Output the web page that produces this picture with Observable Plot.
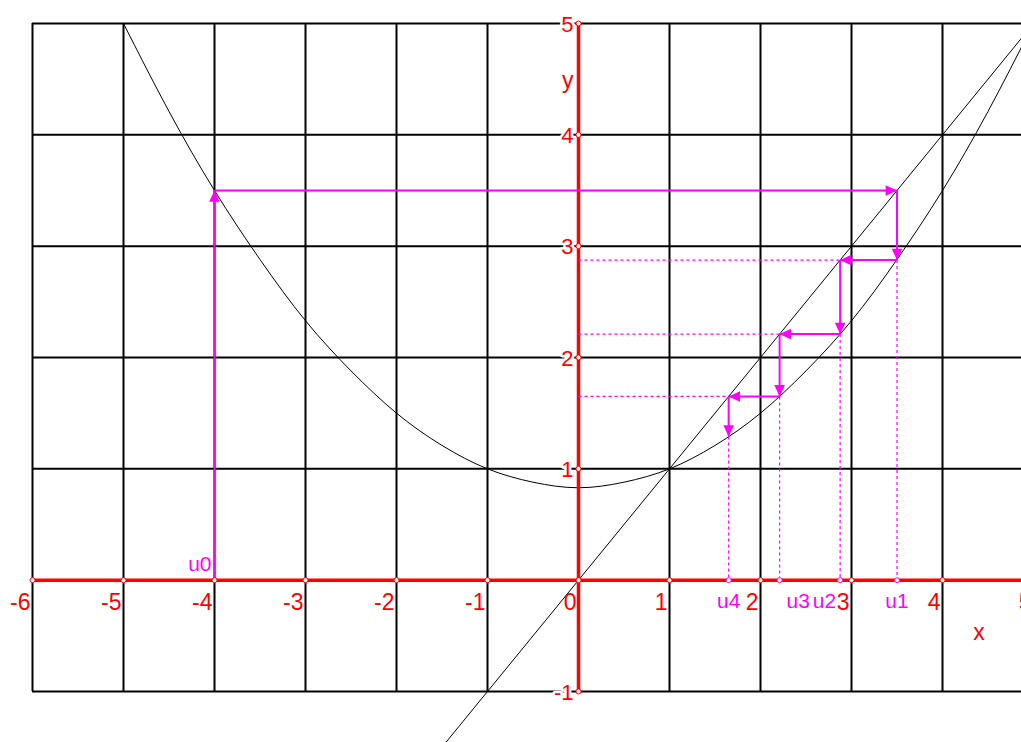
<!DOCTYPE html>
<html>
<head>
<meta charset="utf-8">
<script src="https://cdn.jsdelivr.net/npm/d3@7"></script>
<script src="https://cdn.jsdelivr.net/npm/@observablehq/plot@0.6"></script>
<style>
  html, body { margin: 0; padding: 0; background: #fff; overflow: hidden; }
  #chart svg { display: block; overflow: hidden; }
</style>
</head>
<body>
<div id="chart"></div>
<script>
// Grid positions and tick labels
const gridX = [-6, -5, -4, -3, -2, -1, 0, 1, 2, 3, 4, 5];
const gridY = [-1, 0, 1, 2, 3, 4, 5];
const labelsX = ["-6", "-5", "-4", "-3", "-2", "-1", "0", "1", "2", "3", "4", "5"];
const labelsY = ["-1", "", "1", "2", "3", "4", "5"];

// Points along the curve y = f(x)
const curveX = [-5, -4.5, -4, -3.5, -3, -2.5, -2, -1.5, -1, -0.5, 0, 0.5, 1, 1.5, 2, 2.5, 3, 3.5, 4, 4.5, 5];
const curveY = [5, 4.21, 3.5, 2.88, 2.33, 1.88, 1.5, 1.21, 1, 0.88, 0.83, 0.88, 1, 1.21, 1.5, 1.88, 2.33, 2.88, 3.5, 4.21, 5];

// The line y = x, from its lower end to its upper end
const diagonal = [-1.7, 5.2];

// Terms of the sequence u(n+1) = f(u(n))
const terms = [-4, 3.5, 2.875, 2.21, 1.65, 1.29];
const termNames = ["u0", "u1", "u2", "u3", "u4"];

const MAGENTA = "#ff00ff";
const RED = "#ff0000";
const FONT = "'Liberation Sans', Arial, Helvetica, sans-serif";

// Cobweb steps: vertical to the curve, then horizontal to the diagonal
const steps = [];
steps.push({x1: terms[0], y1: 0, x2: terms[0], y2: terms[1], dir: "up"});
for (let k = 0; k < terms.length - 1; k++) {
  if (k > 0) steps.push({x1: terms[k], y1: terms[k], x2: terms[k], y2: terms[k + 1], dir: "down"});
  if (k < terms.length - 2) {
    steps.push({x1: terms[k], y1: terms[k + 1], x2: terms[k + 1], y2: terms[k + 1],
                dir: terms[k + 1] > terms[k] ? "right" : "left"});
  }
}

// Dotted guides towards the axes
const guides = [];
for (let k = 2; k <= 4; k++) guides.push({x1: 0, y1: terms[k], x2: terms[k], y2: terms[k]});
for (let k = 1; k <= 4; k++) guides.push({x1: terms[k], y1: terms[k + 1], x2: terms[k], y2: 0});

// Filled arrowhead with its tip at the origin, pointing along (ux, uy)
function head(ux, uy) {
  return {
    draw(context, size) {
      const l = Math.sqrt(size);
      const w = l * 0.47;
      context.moveTo(0, 0);
      context.lineTo(-ux * l - uy * w, -uy * l + ux * w);
      context.lineTo(-ux * l + uy * w, -uy * l - ux * w);
      context.closePath();
    }
  };
}
const heads = {up: head(0, -1), down: head(0, 1), left: head(-1, 0), right: head(1, 0)};
const headMarks = Object.keys(heads).map(dir =>
  Plot.dot(steps.filter(s => s.dir === dir), {
    x: "x2", y: "y2", r: 6.4, symbol: heads[dir], fill: MAGENTA, stroke: "none"
  })
);

const curve = curveX.map((x, i) => ({x, y: curveY[i]}));
const termTicks = terms.slice(1, 5);

const chart = Plot.plot({
  width: 1021,
  height: 742,
  margin: 0,
  x: {domain: [-6, 5], range: [32, 1033], axis: null},
  y: {domain: [-1, 5], range: [691, 23], axis: null},
  style: {fontFamily: FONT, background: "#fff", overflow: "hidden"},
  marks: [
    // grid
    Plot.ruleX(gridX, {x: d => d, y1: -1, y2: 5, stroke: "#000", strokeWidth: 2}),
    Plot.ruleY(gridY, {y: d => d, x1: -6, x2: 5, stroke: "#000", strokeWidth: 2}),
    // y = x and the curve
    Plot.line(diagonal.map(v => ({x: v, y: v})), {x: "x", y: "y", stroke: "#000", strokeWidth: 1}),
    Plot.line(curve, {x: "x", y: "y", curve: "natural", stroke: "#000", strokeWidth: 1}),
    // axes
    Plot.ruleY([0], {x1: -6, x2: 5, stroke: RED, strokeWidth: 3.5}),
    Plot.ruleX([0], {y1: -1, y2: 5, stroke: RED, strokeWidth: 3.5}),
    // cobweb
    Plot.link(guides, {x1: "x1", y1: "y1", x2: "x2", y2: "y2", stroke: MAGENTA, strokeWidth: 1.2, strokeDasharray: "3,3"}),
    Plot.link(steps, {x1: "x1", y1: "y1", x2: "x2", y2: "y2", stroke: MAGENTA, strokeWidth: 2}),
    ...headMarks,
    // tick markers
    Plot.dot(gridX, {x: d => d, y: 0, r: 2.5, fill: "#fff", stroke: RED, strokeWidth: 1}),
    Plot.dot(gridY, {x: 0, y: d => d, r: 2.5, fill: "#fff", stroke: RED, strokeWidth: 1}),
    Plot.dot(termTicks, {x: d => d, y: 0, r: 2.5, fill: "#fff", stroke: MAGENTA, strokeWidth: 1}),
    // tick labels
    Plot.text(gridX, {x: d => d, y: 0, text: (d, i) => labelsX[i], textAnchor: "end", dx: -2, dy: 22, fill: RED, fontSize: 23}),
    Plot.text(gridY.filter((d, i) => labelsY[i] !== ""), {x: 0, y: d => d, text: d => labelsY[gridY.indexOf(d)], textAnchor: "end", dx: -5, dy: 1, fill: RED, fontSize: 22, stroke: "#fff", strokeWidth: 5}),
    // axis names
    Plot.text(["y"], {x: 0, y: 4.5, text: d => d, textAnchor: "end", dx: -5, dy: 1, fill: RED, fontSize: 23}),
    Plot.text(["x"], {x: 4.4, y: -0.47, text: d => d, textAnchor: "middle", fill: RED, fontSize: 23}),
    // names of the terms
    Plot.text([0], {x: i => terms[i], y: 0, text: i => termNames[i], textAnchor: "end", dx: -3, dy: -16, fill: MAGENTA, fontSize: 21}),
    Plot.text([1, 4], {x: i => terms[i], y: 0, text: i => termNames[i], textAnchor: "middle", dy: 21, fill: MAGENTA, fontSize: 21}),
    Plot.text([3], {x: i => terms[i], y: 0, text: i => termNames[i], textAnchor: "start", dx: 7, dy: 21, fill: MAGENTA, fontSize: 21}),
    Plot.text([2], {x: i => terms[i], y: 0, text: i => termNames[i], textAnchor: "end", dx: -4, dy: 21, fill: MAGENTA, fontSize: 21})
  ]
});

document.getElementById("chart").append(chart);
</script>
</body>
</html>
